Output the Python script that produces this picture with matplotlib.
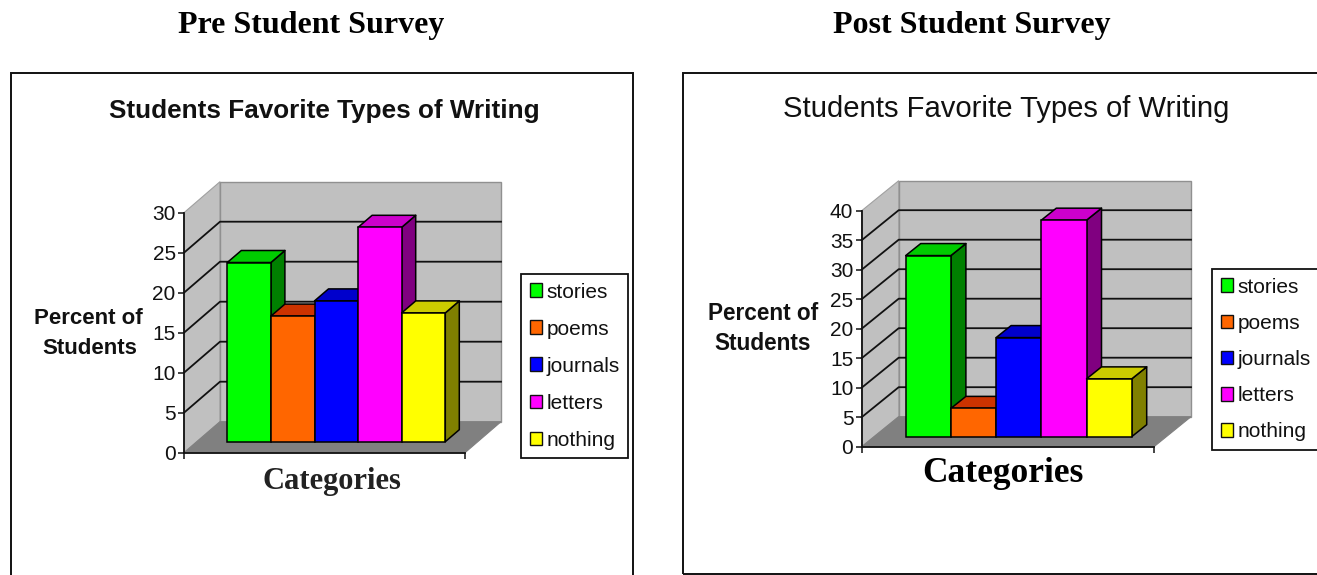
import matplotlib
matplotlib.use('Agg')
import matplotlib.pyplot as plt
from matplotlib.patches import Patch, Rectangle

W, H = 1317, 575

categories = ['stories', 'poems', 'journals', 'letters', 'nothing']
pre_values = [22.4, 15.7, 17.6, 26.8, 16.1]
post_values = [30.7, 4.8, 16.8, 36.7, 9.8]
pre_ticks = [0, 5, 10, 15, 20, 25, 30]
post_ticks = [0, 5, 10, 15, 20, 25, 30, 35, 40]

face_colors = ['#00FF00', '#FF6600', '#0000FF', '#FF00FF', '#FFFF00']
side_colors = ['#008000', '#803300', '#000080', '#800080', '#808000']
top_colors = ['#00CC00', '#CC3300', '#0000CC', '#CC00CC', '#CCCC00']

SANS = 'Liberation Sans'
SERIF = 'Liberation Serif'

fig = plt.figure(figsize=(W / 100, H / 100), dpi=100)
fig.patch.set_facecolor('white')


def fx(x):
    return x / W


def fy(y):
    return 1 - y / H


def frame(x0, y0, x1, y1):
    fig.add_artist(Rectangle((fx(x0), fy(y1)), fx(x1 - x0), y1 / H - y0 / H, fill=False,
                             edgecolor='#111111', linewidth=1.4, transform=fig.transFigure))


def chart(values, ticks, box, bar_left, bar_w, base_px, wall_px, bar_px):
    # box is the front plane in pixels: left, right, y of zero, y of top tick
    left, right, y0, ytop = box
    ax = fig.add_axes([fx(left), fy(y0), fx(right - left), (y0 - ytop) / H])
    ax.set_facecolor('none')
    ppu = (y0 - ytop) / ticks[-1]
    xmin = -(bar_left - left) / bar_w - 0.5
    xmax = xmin + (right - left) / bar_w
    ax.set_xlim(xmin, xmax)
    ax.set_ylim(0, ticks[-1])

    # depth of the walls and of the bars, converted to data units
    wx, wy = wall_px[0] / bar_w, wall_px[1] / ppu
    bx, by = bar_px[0] / bar_w, bar_px[1] / ppu
    base = base_px / ppu

    ax.fill([xmin, xmin + wx, xmin + wx, xmin], [0, wy, ticks[-1] + wy, ticks[-1]], fc='#C0C0C0',
            ec='#A0A0A0', lw=0.8, clip_on=False, zorder=1)
    ax.fill([xmin + wx, xmax + wx, xmax + wx, xmin + wx], [wy, wy, ticks[-1] + wy, ticks[-1] + wy],
            fc='#C0C0C0', ec='#909090', lw=1.0, clip_on=False, zorder=1)
    ax.fill([xmin, xmax, xmax + wx, xmin + wx], [0, 0, wy, wy], fc='#808080', ec='#808080', lw=0.8,
            clip_on=False, zorder=2)

    for t in ticks[1:-1]:
        ax.plot([xmin, xmin + wx, xmax + wx], [t, t + wy, t + wy], color='#111111', lw=1.3,
                clip_on=False, zorder=3)

    for i, v in enumerate(values):
        l, r = i - 0.5, i + 0.5
        ax.fill([r, r + bx, r + bx, r], [base, base + by, base + v + by, base + v], fc=side_colors[i],
                ec='black', lw=1.1, clip_on=False, zorder=4 + i, joinstyle='round')
        ax.fill([l, l + bx, r + bx, r], [base + v, base + v + by, base + v + by, base + v], fc=top_colors[i],
                ec='black', lw=1.1, clip_on=False, zorder=4 + i, joinstyle='round')
        ax.bar(i, v, width=1, bottom=base, color=face_colors[i], edgecolor='black', linewidth=1.1,
               clip_on=False, zorder=4 + i)

    for s in ['top', 'right']:
        ax.spines[s].set_visible(False)
    for s in ['left', 'bottom']:
        ax.spines[s].set_color('#111111')
        ax.spines[s].set_linewidth(1.3)
        ax.spines[s].set_zorder(20)
    ax.set_xticks([xmin, xmax])
    ax.set_xticklabels([])
    ax.set_yticks(ticks)
    ax.set_yticklabels([str(t) for t in ticks], fontname=SANS, fontsize=15, color='#111111')
    ax.tick_params(axis='both', length=4, width=1.1, color='#111111', pad=2)
    return ax


def legend(x, y, spacing):
    handles = [Patch(facecolor=c, edgecolor='#111111', linewidth=1.0) for c in face_colors]
    lg = fig.legend(handles, categories, loc='upper left', bbox_to_anchor=(fx(x), fy(y)),
                    bbox_transform=fig.transFigure, borderaxespad=0, fancybox=False, framealpha=1,
                    edgecolor='#111111', prop={'family': SANS, 'size': 15}, handlelength=0.62,
                    handleheight=0.62, handletextpad=0.2, labelspacing=spacing, borderpad=0.41,
                    labelcolor='#111111')
    lg.get_frame().set_linewidth(1.3)
    return lg


fig.text(fx(311), fy(26), 'Pre Student Survey', family=SERIF, weight='bold', fontsize=23,
         ha='center', va='center', color='black')
fig.text(fx(972), fy(26), 'Post Student Survey', family=SERIF, weight='bold', fontsize=23,
         ha='center', va='center', color='black')

frame(11, 73, 633, H + 5)
frame(683, 73, W + 5, 574)

chart(pre_values, pre_ticks, (184, 465, 452.7, 212.7), 227.3, 43.6, 11, (36, 31), (14, 12))
chart(post_values, post_ticks, (861.7, 1154, 446.7, 210.7), 905.7, 45.2, 10, (37, 30), (15, 12))

fig.text(fx(324), fy(111), 'Students Favorite Types of Writing', family=SANS, weight='bold', fontsize=18.8,
         ha='center', va='center', color='#111111')
fig.text(fx(1006), fy(109), 'Students Favorite Types of Writing', family=SANS, fontsize=21.1,
         ha='center', va='center', color='#111111')

fig.text(fx(88), fy(318), 'Percent of', family=SANS, weight='bold', fontsize=16, ha='center', va='center',
         color='#111111')
fig.text(fx(90), fy(349), 'Students', family=SANS, weight='bold', fontsize=16, ha='center', va='center',
         color='#111111')
fig.text(fx(763), fy(314), 'Percent of', family=SANS, weight='bold', fontsize=16.3, ha='center', va='center',
         color='#111111')
fig.text(fx(763), fy(343), 'Students', family=SANS, weight='bold', fontsize=16.3, ha='center', va='center',
         color='#111111')

fig.text(fx(332), fy(482), 'Categories', family=SERIF, weight='bold', fontsize=22, ha='center', va='center',
         color='#222222')
fig.text(fx(1003), fy(474), 'Categories', family=SERIF, weight='bold', fontsize=25.5, ha='center', va='center',
         color='black')

legend(521, 274, 0.865)
legend(1212, 269, 0.826)

fig.savefig('out.png', dpi=100)
